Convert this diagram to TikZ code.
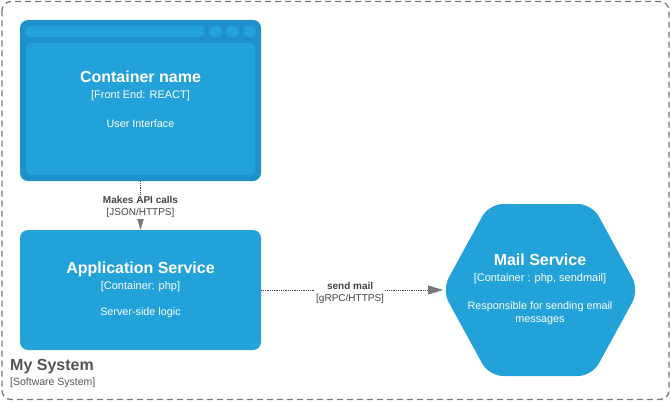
\documentclass[tikz,border=0pt]{standalone}
\usepackage{fontspec}
\setmainfont{Liberation Sans}
\usetikzlibrary{arrows.meta}
\definecolor{c4fill}{HTML}{23A2D9}
\definecolor{c4frame}{HTML}{1E90CB}
\definecolor{bordergray}{HTML}{777777}
\definecolor{labelgray}{HTML}{444444}
\definecolor{sysgray}{HTML}{555555}
\tikzset{
  title/.style={text=white, font=\fontsize{16}{18}\selectfont\bfseries, inner sep=0pt},
  tech/.style={text=white, font=\fontsize{11}{13}\selectfont, inner sep=0pt},
  desc/.style={text=white, font=\fontsize{10.8}{13}\selectfont, inner sep=0pt},
  conn/.style={draw=labelgray, densely dotted, line width=0.8pt,
    -{Triangle[length=15pt,width=9pt,fill=bordergray,color=bordergray]}},
  clabel/.style={fill=white, text=labelgray, align=center, inner sep=1pt,
    font=\fontsize{10}{12}\selectfont},
  box/.style={fill=c4fill, rounded corners=8pt},
}
\begin{document}
\begin{tikzpicture}[x=1pt,y=-1pt]
\useasboundingbox (0,0) rectangle (671,401);
% system boundary
\draw[bordergray, line width=1.3pt, dash pattern=on 6pt off 4pt, rounded corners=9pt]
  (2,1.5) rectangle (669,399.5);
\node[anchor=west, text=sysgray, font=\fontsize{16}{18}\selectfont\bfseries, inner sep=0pt] (sysname) at (10,367) {My System};
\node[anchor=west, text=sysgray, font=\fontsize{10.5}{12}\selectfont, inner sep=0pt] (systype) at (10,383) {[Software System]};

% front end (web browser container)
\fill[c4frame, rounded corners=8pt] (20,20) rectangle (261,181);
\fill[c4fill, rounded corners=3pt] (26,26) rectangle (204,37);
\fill[c4fill, rounded corners=3pt] (210,26) rectangle (221,37);
\fill[c4fill, rounded corners=3pt] (227,26) rectangle (238,37);
\fill[c4fill, rounded corners=3pt] (244,26) rectangle (255,37);
\fill[c4fill, rounded corners=5pt] (26,43) rectangle (255,175);
\node[minimum width=241pt, minimum height=161pt, inner sep=0pt] (fe) at (140.5,100.5) {};
\node[title] (fetitle) at (140.5,77) {Container name};
\node[tech] (fetech) at (140.5,96) {[Front End: REACT]};
\node[desc] (fedesc) at (140.5,124) {User Interface};

% application service
\node[box, minimum width=241pt, minimum height=120pt, inner sep=0pt] (app) at (140.5,290) {};
\node[title] (apptitle) at (140.5,269) {Application Service};
\node[tech] (apptech) at (140.5,287) {[Container: php]};
\node[desc] (appdesc) at (140.5,313) {Server-side logic};

% mail service hexagon
\fill[c4fill, rounded corners=14pt] (442,290) -- (489,204) -- (592,204) -- (639,290) -- (592,376) -- (489,376) -- cycle;
\coordinate (mailw) at (443,290);
\node[title] (mailtitle) at (540,260) {Mail Service};
\node[tech] (mailtech) at (540,279) {[Container : php, sendmail]};
\node[desc] (maildesc1) at (540,307) {Responsible for sending email};
\node[desc] (maildesc2) at (540,321) {messages};

% connectors
\draw[conn] (fe.south) -- node[clabel, yshift=-1.5pt] (l1) {\textbf{Makes API calls}\\{[JSON/HTTPS]}} (app.north);
\draw[conn] (app.east) -- node[clabel, xshift=-2pt, yshift=-3pt] (l2) {\textbf{send mail}\\{[gRPC/HTTPS]}} (mailw);
\end{tikzpicture}
\end{document}
